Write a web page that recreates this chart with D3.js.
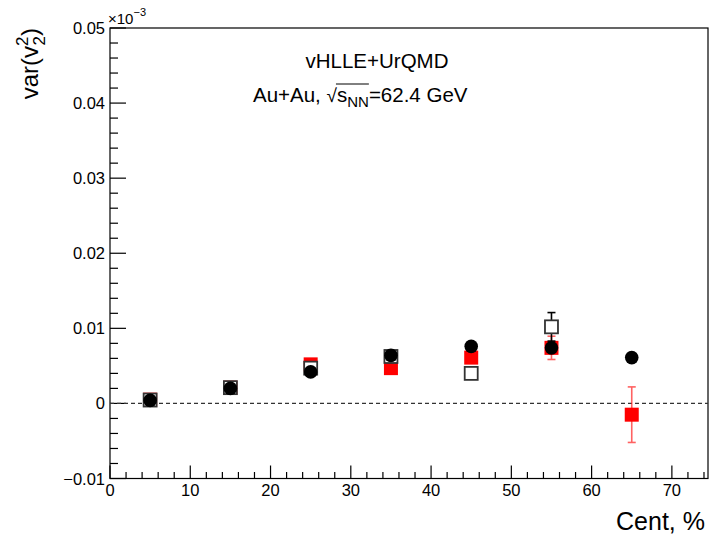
<!DOCTYPE html>
<html>
<head>
<meta charset="utf-8">
<script src="https://cdn.jsdelivr.net/npm/d3@7"></script>
<style>
  html, body { margin: 0; padding: 0; background: #fff; }
  svg { display: block; font-family: "Liberation Sans", Arial, Helvetica, sans-serif; }
</style>
</head>
<body>
<svg id="chart" width="710" height="536"></svg>
<script>
// Centrality bins (%)
const cent = [5, 15, 25, 35, 45, 55, 65];

// var(v2^2) in units of 1e-3
const redVals   = [0.0005, 0.0021, 0.0052, 0.0047, 0.0061, 0.0074, -0.0015];
const redErr    = [0.0003, 0.0003, 0.0004, 0.0004, 0.0005, 0.00155, 0.0037];
const openVals  = [0.00045, 0.0021, 0.0047, 0.00625, 0.0040, 0.0102, null];
const openErr   = [0.0003, 0.0003, 0.0004, 0.0004, 0.0004, 0.0019, null];
const circVals  = [0.0004, 0.0020, 0.0042, 0.0064, 0.0076, 0.0074, 0.0061];

const xTicks = [0, 10, 20, 30, 40, 50, 60, 70];
const yTicks = [-0.01, 0, 0.01, 0.02, 0.03, 0.04, 0.05];

const svg = d3.select("#chart");
const padL = 110, padR = 708, padT = 28, padB = 478.5;

const x = d3.scaleLinear().domain([0, 74.5]).range([padL, padR]);
const y = d3.scaleLinear().domain([-0.01, 0.05]).range([padB, padT]);

// Frame
svg.append("rect")
  .attr("x", padL).attr("y", padT)
  .attr("width", padR - padL).attr("height", padB - padT)
  .attr("fill", "none").attr("stroke", "#000").attr("stroke-width", 1.2);

// Y axis ticks (major every 0.01, minor every 0.002)
const yMinor = d3.range(-0.01, 0.05001, 0.002);
svg.append("g").selectAll("line").data(yMinor).join("line")
  .attr("x1", padL).attr("x2", d => padL + (Math.abs(Math.round(d / 0.002) % 5) === 0 ? 16 : 8))
  .attr("y1", d => y(d)).attr("y2", d => y(d))
  .attr("stroke", "#000").attr("stroke-width", 1.2);

svg.append("g").selectAll("text").data(yTicks).join("text")
  .attr("x", padL - 5).attr("y", d => y(d) + 6)
  .attr("text-anchor", "end").attr("font-size", 16.5)
  .text(d => d === 0 ? "0" : (d < 0 ? "\u2212" : "") + d3.format(".2f")(Math.abs(d)));

// X axis ticks (major every 10, minor every 2)
const xMinor = d3.range(0, 74.5, 2);
svg.append("g").selectAll("line").data(xMinor).join("line")
  .attr("x1", d => x(d)).attr("x2", d => x(d))
  .attr("y1", padB).attr("y2", d => padB - (d % 10 === 0 ? 13 : 6.5))
  .attr("stroke", "#000").attr("stroke-width", 1.2);

svg.append("g").selectAll("text").data(xTicks).join("text")
  .attr("x", d => x(d)).attr("y", 496)
  .attr("text-anchor", "middle").attr("font-size", 16.5)
  .text(d => d);

// Exponent marker
const expo = svg.append("text").attr("x", 108).attr("y", 24).attr("font-size", 15);
expo.append("tspan").text("\u00d710");
expo.append("tspan").attr("dy", -8).attr("font-size", 11).text("\u22123");

// Axis titles
svg.append("text")
  .attr("x", 705).attr("y", 530)
  .attr("text-anchor", "end").attr("font-size", 25)
  .text("Cent, %");

const yl = svg.append("text")
  .attr("transform", "translate(38,28) rotate(-90)")
  .attr("text-anchor", "end").attr("font-size", 24);
yl.append("tspan").text("var(v");
yl.append("tspan").attr("font-size", 17).attr("dy", -10).text("2");
yl.append("tspan").attr("font-size", 17).attr("dx", -9).attr("dy", 17).text("2");
yl.append("tspan").attr("dy", -7).text(")");

// Zero reference line
svg.append("line")
  .attr("x1", padL).attr("x2", padR)
  .attr("y1", y(0)).attr("y2", y(0))
  .attr("stroke", "#333").attr("stroke-width", 1.2)
  .attr("stroke-dasharray", "4,3");

// Annotations
svg.append("text")
  .attr("x", 377).attr("y", 68).attr("text-anchor", "middle").attr("font-size", 20.5)
  .text("vHLLE+UrQMD");

const ann = svg.append("text").attr("x", 253).attr("y", 102).attr("font-size", 20.5);
ann.append("tspan").text("Au+Au, ");
ann.append("tspan").attr("font-size", 19).text("\u221a");
ann.append("tspan").text("s");
ann.append("tspan").attr("font-size", 15).attr("dy", 5).text("NN");
ann.append("tspan").attr("dy", -5).text("=62.4 GeV");
// overline for the square root
{
  const node = ann.node();
  const startIdx = "Au+Au, ".length + 1;
  const endIdx = startIdx + 2;
  const s0 = node.getExtentOfChar(startIdx - 1);
  const e0 = node.getExtentOfChar(endIdx);
  svg.append("line")
    .attr("x1", s0.x + s0.width - 1).attr("x2", e0.x + e0.width)
    .attr("y1", 84).attr("y2", 84)
    .attr("stroke", "#000").attr("stroke-width", 1);
}

// Error bars helper
function errBars(vals, errs, color, width, op) {
  const idx = d3.range(cent.length).filter(i => vals[i] !== null);
  const g = svg.append("g").attr("stroke", color).attr("stroke-width", width).attr("opacity", op);
  g.selectAll("line.v").data(idx).join("line").attr("class", "v")
    .attr("x1", i => x(cent[i])).attr("x2", i => x(cent[i]))
    .attr("y1", i => y(vals[i] - errs[i])).attr("y2", i => y(vals[i] + errs[i]));
  g.selectAll("line.t").data(idx).join("line").attr("class", "t")
    .attr("x1", i => x(cent[i]) - 4).attr("x2", i => x(cent[i]) + 4)
    .attr("y1", i => y(vals[i] + errs[i])).attr("y2", i => y(vals[i] + errs[i]));
  g.selectAll("line.b").data(idx).join("line").attr("class", "b")
    .attr("x1", i => x(cent[i]) - 4).attr("x2", i => x(cent[i]) + 4)
    .attr("y1", i => y(vals[i] - errs[i])).attr("y2", i => y(vals[i] - errs[i]));
}

// Red filled squares
errBars(redVals, redErr, "#ff2020", 1.6, 0.7);
svg.append("g").selectAll("rect").data(d3.range(cent.length)).join("rect")
  .attr("x", i => x(cent[i]) - 7).attr("y", i => y(redVals[i]) - 7)
  .attr("width", 14).attr("height", 14)
  .attr("fill", "#ff0000");

// Open squares
const openIdx = d3.range(cent.length).filter(i => openVals[i] !== null);
errBars(openVals, openErr, "#000", 1.6, 1);
svg.append("g").selectAll("rect").data(openIdx).join("rect")
  .attr("x", i => x(cent[i]) - 6.5).attr("y", i => y(openVals[i]) - 6.5)
  .attr("width", 13).attr("height", 13)
  .attr("fill", "#fff").attr("stroke", "#333").attr("stroke-width", 1.8);

// Black circles
svg.append("g").selectAll("circle").data(d3.range(cent.length)).join("circle")
  .attr("cx", i => x(cent[i])).attr("cy", i => y(circVals[i]))
  .attr("r", 6.8).attr("fill", "#000");
</script>
</body>
</html>
